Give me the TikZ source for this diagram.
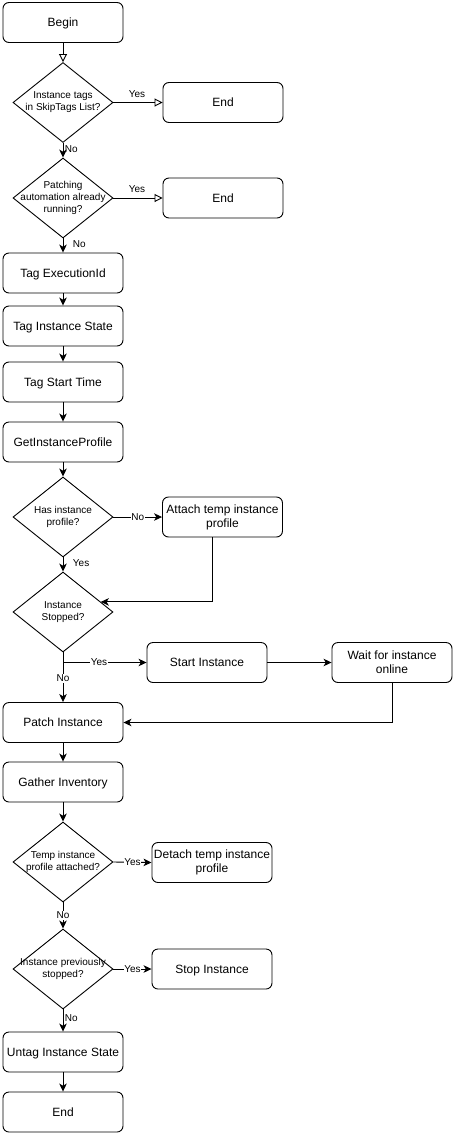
\documentclass[tikz,border=0pt]{standalone}
\usepackage{fontspec}
\setmainfont{Liberation Sans}
\usetikzlibrary{arrows.meta,shapes.geometric,calc}

\tikzset{
  stepbox/.style={draw, line width=0.9pt, rounded corners=6pt,
    minimum width=120pt, minimum height=40pt, align=center,
    font=\fontsize{12}{14}\selectfont, inner sep=2pt},
  onebox/.style={stepbox, text height=10.9pt, text depth=2.5pt},
  decision/.style={draw, line width=0.9pt, diamond,
    minimum width=100pt, minimum height=80pt, inner sep=0pt},
  dtext/.style={font=\fontsize{10}{12}\selectfont, align=center},
  lbl/.style={font=\fontsize{10}{11}\selectfont, inner sep=1.5pt},
  onlbl/.style={lbl, fill=white, inner sep=0.8pt},
  flow/.style={line width=0.9pt, -{Stealth[length=8pt,width=7.5pt,inset=2.2pt]}},
  hollow/.style={line width=0.9pt, -{Triangle[open,length=8pt,width=8pt,fill=white]}}
}

\begin{document}
\begin{tikzpicture}[x=1pt, y=-1pt]
  \useasboundingbox (0,0) rectangle (461,1141);

  % main column
  \node[onebox] (begin)    at (63,22.5)  {Begin};
  \node[decision, label={[dtext]center:Instance tags\\in SkipTags List?}] (skip) at (63,102.5) {};
  \node[onebox] (endA)     at (223,102.5) {End};
  \node[decision, label={[dtext]center:Patching\\automation already\\running?}] (running) at (63,198) {};
  \node[onebox] (endB)     at (223,198)  {End};
  \node[onebox] (tagexec)  at (63,273)   {Tag ExecutionId};
  \node[onebox] (tagstate) at (63,326)   {Tag Instance State};
  \node[onebox] (tagtime)  at (63,382)   {Tag Start Time};
  \node[onebox] (getprof)  at (63,442)   {GetInstanceProfile};
  \node[decision, label={[dtext]center:Has instance\\profile?}] (hasprof) at (63,517) {};
  \node[stepbox] (attach)   at (222.5,517) {Attach temp instance\\profile};
  \node[decision, label={[dtext]center:Instance\\Stopped?}] (stopped) at (63,612) {};
  \node[onebox] (start)    at (207,662.5) {Start Instance};
  \node[stepbox] (wait)     at (392,662.5) {Wait for instance\\online};
  \node[onebox] (patch)    at (63,722.5) {Patch Instance};
  \node[onebox] (gather)   at (63,782)   {Gather Inventory};
  \node[decision, label={[dtext]center:Temp instance\\profile attached?}] (tempatt) at (63,862) {};
  \node[stepbox] (detach)   at (212,862.5) {Detach temp instance\\profile};
  \node[decision, label={[dtext]center:Instance previously\\stopped?}] (prevstop) at (63,969) {};
  \node[onebox] (stop)     at (212,969)  {Stop Instance};
  \node[onebox] (untag)    at (63,1052)  {Untag Instance State};
  \node[onebox] (endC)     at (63,1112)  {End};

  % helper points
  \coordinate (stoppedIn) at ($(stopped.east)!0.25!(stopped.north)$);
  \coordinate (attachOut) at ([xshift=-10.5pt]attach.south);
  \coordinate (branch)    at ($(stopped.south)+(0,10)$);

  % connectors
  \draw[hollow] (begin) -- (skip);
  \draw[hollow] (skip.east) -- node[lbl, above=3pt, pos=0.48] {Yes} (endA.west);
  \draw[flow] (skip.south) -- node[lbl, right, pos=0.4] {No} (running.north);
  \draw[hollow] (running.east) -- node[lbl, above=3pt, pos=0.48] {Yes} (endB.west);
  \draw[flow] (running.south) -- node[lbl, right, pos=0.4, xshift=8pt] {No} (tagexec.north);
  \draw[flow] (tagexec) -- (tagstate);
  \draw[flow] (tagstate) -- (tagtime);
  \draw[flow] (tagtime) -- (getprof);
  \draw[flow] (getprof) -- (hasprof.north);
  \draw[flow] (hasprof.east) -- node[onlbl] {No} (attach.west);
  \draw[flow] (hasprof.south) -- node[lbl, right, pos=0.4, xshift=8pt] {Yes} (stopped.north);
  \draw[flow] (attachOut) |- (stoppedIn);
  \draw[flow] (stopped.south) -- node[onlbl, pos=0.52] {No} (patch.north);
  \draw[flow] (branch) -- node[onlbl, pos=0.43] {Yes} (start.west);
  \draw[flow] (start) -- (wait);
  \draw[flow] (wait.south) |- (patch.east);
  \draw[flow] (patch) -- (gather);
  \draw[flow] (gather) -- (tempatt.north);
  \draw[flow] (tempatt.east) -- node[onlbl] {Yes} (detach.west);
  \draw[flow] (tempatt.south) -- node[onlbl] {No} (prevstop.north);
  \draw[flow] (prevstop.east) -- node[onlbl] {Yes} (stop.west);
  \draw[flow] (prevstop.south) -- node[lbl, right, pos=0.4] {No} (untag.north);
  \draw[flow] (untag) -- (endC);
\end{tikzpicture}
\end{document}
